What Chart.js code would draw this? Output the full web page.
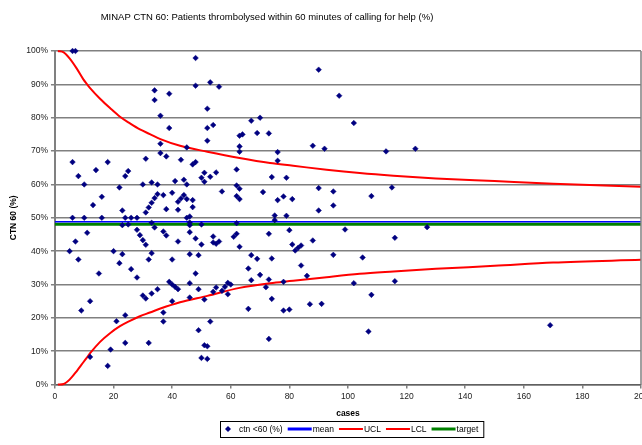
<!DOCTYPE html>
<html>
<head>
<meta charset="utf-8">
<script src="https://cdn.jsdelivr.net/npm/chart.js@4.4.1/dist/chart.umd.min.js"></script>
<style>
  html, body { margin: 0; padding: 0; background: #fff; overflow: hidden; }
</style>
</head>
<body>
<canvas id="chart1" width="700" height="445"></canvas>
<script>
const chartTitle = 'MINAP CTN 60: Patients thrombolysed within 60 minutes of calling for help (%)';

// scatter: cases per centre and % within 60 min
const ctnCases = [
  6, 7, 6, 8, 10, 14, 18, 13, 16, 22,
  24, 25, 23, 31, 30, 31, 6, 10, 16, 24,
  26, 28, 25, 23, 32, 33, 38, 42, 11, 7,
  5, 8, 15, 20, 23, 22, 26, 28, 28, 29,
  30, 31, 33, 32, 33, 34, 37, 38, 42, 40,
  39, 40, 41, 42, 30, 31, 33, 35, 40, 9,
  12, 37, 37, 24, 21, 24, 32, 19, 12, 18,
  48, 48, 53, 56, 34, 34, 39, 52, 36, 39,
  52, 54, 52, 36, 36, 38, 45, 43, 47, 48,
  63, 64, 63, 63, 67, 70, 69, 73, 62, 50,
  51, 53, 55, 51, 62, 63, 62, 63, 57, 71,
  33, 35, 41, 44, 45, 34, 35, 37, 40, 42,
  43, 44, 45, 47, 47, 45, 46, 46, 46, 50,
  62, 46, 48, 50, 54, 54, 55, 56, 61, 62,
  63, 73, 46, 49, 67, 69, 66, 70, 67, 48,
  46, 49, 51, 46, 54, 55, 57, 58, 59, 60,
  59, 72, 66, 53, 49, 51, 52, 50, 52, 73,
  90, 97, 102, 88, 92, 113, 123, 76, 76, 74,
  79, 76, 78, 81, 90, 95, 90, 95, 108, 115,
  75, 79, 75, 80, 99, 116, 127, 88, 81, 82,
  83, 84, 95, 105, 74, 84, 86, 73, 78, 102,
  116, 74, 108, 78, 80, 87, 91, 107, 169
];
const ctnPct = [
  100, 100, 66.7, 62.5, 60, 64.3, 66.7, 53.8, 56.3, 59.1,
  62.5, 64, 52.2, 67.7, 60, 51.6, 50, 50, 50, 50,
  50, 50, 48, 47.8, 53.1, 54.5, 52.6, 52.4, 45.5, 42.9,
  40, 37.5, 33.3, 40, 39.1, 36.4, 34.6, 32.1, 46.4, 44.8,
  43.3, 41.9, 39.4, 37.5, 48.5, 47.1, 45.9, 44.7, 42.9, 37.5,
  30.8, 30, 29.3, 28.6, 26.7, 25.8, 27.3, 28.6, 25, 22.2,
  25, 21.6, 18.9, 20.8, 19, 12.5, 12.5, 10.5, 8.3, 5.6,
  97.9, 89.6, 90.6, 89.3, 88.2, 85.3, 87.2, 82.7, 80.6, 76.9,
  76.9, 77.8, 73.1, 72.2, 69.4, 68.4, 71.1, 67.4, 66, 66.7,
  74.6, 75, 71.4, 69.8, 79.1, 80, 75.4, 75.3, 64.5, 62,
  63.5, 62.3, 63.6, 60.8, 59.7, 58.7, 56.5, 55.6, 57.9, 57.7,
  60.6, 60, 61, 61.4, 60, 55.9, 57.1, 56.8, 57.5, 54.8,
  55.8, 56.8, 55.6, 55.3, 53.2, 50, 50.4, 48.6, 47.8, 48,
  48.4, 45.7, 43.8, 42, 44.4, 42.6, 42.2, 42.9, 44.3, 45.2,
  41.3, 45.2, 39.1, 38.8, 38.8, 37.7, 34.8, 32.9, 31.3, 33.3,
  30.4, 28.6, 25.5, 26.1, 27.8, 29.1, 28.1, 29.3, 30.5, 30,
  27.1, 29.2, 22.7, 18.9, 16.3, 11.8, 11.5, 8, 7.7, 13.7,
  94.4, 86.6, 78.4, 71.6, 70.7, 69.9, 70.7, 69.7, 67.1, 62.2,
  62, 55.3, 56.4, 55.6, 58.9, 57.9, 52.2, 53.7, 56.5, 59.1,
  50.7, 50.6, 49.3, 46.3, 46.5, 44, 47.2, 43.2, 42, 40.2,
  41, 41.7, 38.9, 38.1, 37.8, 35.7, 32.6, 31.5, 30.8, 30.4,
  31, 25.7, 26.9, 22.2, 22.5, 24.1, 24.2, 15.9, 17.8
];

// control limits read at these case counts
const limitCases = [1, 3, 5, 7.4, 9.7, 10.9, 12, 15.4, 18.8, 22.2, 25.6, 29, 32.4, 36, 42.7, 52, 63, 73.4, 81.3, 92.7, 104, 115.5, 130, 150, 170, 200];
const uclPct = [100, 99.6, 97.8, 94.8, 91.5, 90.1, 88.9, 85.7, 82.9, 80.3, 78.3, 76.5, 75.1, 73.6, 71.6, 69.8, 67.9, 66.4, 65.6, 64.4, 63.4, 62.6, 61.8, 61.0, 60.2, 59.3];
const lclPct = [0, 0.2, 1.5, 4, 6.7, 8.1, 9.4, 12.8, 15.4, 17.5, 19.1, 20.5, 21.6, 22.8, 24.7, 26.6, 29, 30.4, 31.1, 32.2, 33.2, 33.9, 34.7, 35.6, 36.6, 37.4];

const meanPct = 48.8;
const targetPct = 48.1;
const xRange = [0, 200];

const FONT = '"Liberation Sans", Arial, sans-serif';

function pairs(xs, ys) {
  return xs.map((x, i) => ({ x: x, y: ys[i] }));
}
function flat(v) {
  return xRange.map(x => ({ x: x, y: v }));
}

// Excel-style extras: title, right frame edge, boxed legend
const excelBits = {
  id: 'excelBits',
  afterDraw(chart) {
    const c = chart.ctx;
    const a = chart.chartArea;
    c.save();
    c.strokeStyle = '#808080';
    c.lineWidth = 1.5;
    c.beginPath();
    c.moveTo(a.right, a.top);
    c.lineTo(a.right, a.bottom);
    c.stroke();

    c.fillStyle = '#000';
    c.font = '9.5px ' + FONT;
    c.textAlign = 'center';
    c.textBaseline = 'middle';
    c.fillText(chartTitle, 267, 17);

    // legend
    const ly = 429;
    c.font = '8.5px ' + FONT;
    c.textAlign = 'left';
    let x = 225;
    chart.data.datasets.forEach((ds, i) => {
      if (i === 0) {
        c.fillStyle = ds.backgroundColor;
        c.beginPath();
        c.moveTo(x + 3, ly - 3);
        c.lineTo(x + 6, ly);
        c.lineTo(x + 3, ly + 3);
        c.lineTo(x, ly);
        c.closePath();
        c.fill();
        x += 14;
      } else {
        c.strokeStyle = ds.borderColor;
        c.lineWidth = ds.legendWidth;
        c.beginPath();
        c.moveTo(x, ly);
        c.lineTo(x + 24, ly);
        c.stroke();
        x += 25;
      }
      c.fillStyle = '#000';
      c.fillText(ds.label, x, ly + 0.5);
      x += c.measureText(ds.label).width + 5;
    });
    c.strokeStyle = '#000';
    c.lineWidth = 1;
    c.strokeRect(220.5, 421.5, x - 220, 16);
    c.restore();
  }
};

new Chart(document.getElementById('chart1'), {
  type: 'scatter',
  data: {
    datasets: [{
      label: 'ctn <60 (%)',
      data: pairs(ctnCases, ctnPct),
      pointStyle: 'rectRot',
      pointRadius: 2.8,
      borderWidth: 0.5,
      backgroundColor: '#000080',
      borderColor: '#000080',
      clip: false
    }, {
      label: 'mean',
      data: flat(meanPct),
      showLine: true,
      pointRadius: 0,
      borderColor: '#0000ff',
      borderWidth: 1.5,
      legendWidth: 3,
      clip: false
    }, {
      label: 'UCL',
      data: pairs(limitCases, uclPct),
      showLine: true,
      pointRadius: 0,
      cubicInterpolationMode: 'monotone',
      borderColor: '#ff0000',
      borderWidth: 2,
      legendWidth: 2,
      clip: false
    }, {
      label: 'LCL',
      data: pairs(limitCases, lclPct),
      showLine: true,
      pointRadius: 0,
      cubicInterpolationMode: 'monotone',
      borderColor: '#ff0000',
      borderWidth: 2,
      legendWidth: 2,
      clip: false
    }, {
      label: 'target',
      data: flat(targetPct),
      showLine: true,
      pointRadius: 0,
      borderColor: '#008000',
      borderWidth: 3,
      legendWidth: 3,
      clip: false
    }]
  },
  options: {
    responsive: false,
    animation: false,
    layout: { padding: { left: 5, right: 59, top: 51, bottom: 22 } },
    plugins: {
      legend: { display: false },
      tooltip: { enabled: false }
    },
    scales: {
      x: {
        type: 'linear',
        min: 0,
        max: 200,
        ticks: { stepSize: 20, color: '#222', font: { family: FONT, size: 8.5 } },
        grid: { drawOnChartArea: false, tickLength: 4, color: '#808080', lineWidth: 1.5 },
        border: { color: '#606060', width: 1.5 },
        title: { display: true, text: 'cases', color: '#000', font: { family: FONT, size: 8.5, weight: 'bold' } }
      },
      y: {
        min: 0,
        max: 100,
        ticks: { stepSize: 10, color: '#222', font: { family: FONT, size: 8.5 }, callback: v => v + '%' },
        grid: { tickLength: 4, color: '#808080', lineWidth: 1.5 },
        border: { color: '#808080', width: 2 },
        title: { display: true, text: 'CTN 60 (%)', color: '#000', font: { family: FONT, size: 8.5, weight: 'bold' } }
      }
    }
  },
  plugins: [excelBits]
});
</script>
</body>
</html>
